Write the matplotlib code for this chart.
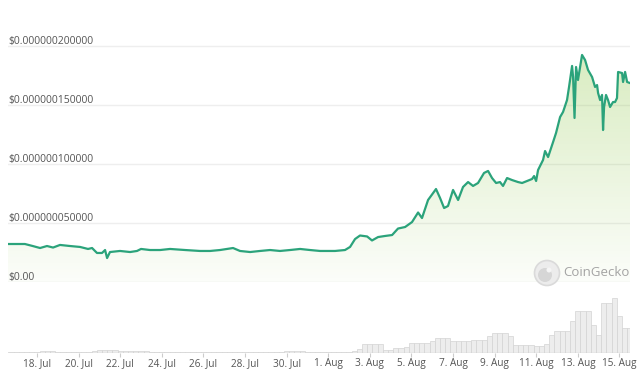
import numpy as np
import pandas as pd
import matplotlib
matplotlib.use("Agg")
import matplotlib.pyplot as plt
import matplotlib.dates as mdates
from matplotlib.patches import Circle
from matplotlib.transforms import IdentityTransform

plt.rcParams['font.family'] = ['Open Sans', 'DejaVu Sans']

# price (time, price in 1e-9 USD)
price_times = [
    "07-16 14:30", "07-17 10:00", "07-17 19:00", "07-18 03:30", "07-18 11:30", "07-18 18:30",
    "07-19 02:30", "07-19 14:00", "07-20 01:40", "07-20 10:50", "07-20 15:30", "07-20 21:10",
    "07-21 03:00", "07-21 06:30", "07-21 08:50", "07-21 12:10", "07-21 23:45", "07-22 11:20",
    "07-22 19:20", "07-23 00:00", "07-23 10:20", "07-23 22:00", "07-24 09:30", "07-25 02:50",
    "07-25 20:00", "07-26 07:40", "07-26 19:10", "07-27 10:10", "07-27 18:10", "07-28 05:50",
    "07-28 17:20", "07-29 04:50", "07-29 16:20", "07-30 03:50", "07-30 15:30", "07-31 03:00",
    "07-31 14:30", "08-01 07:50", "08-01 19:20", "08-02 01:10", "08-02 06:55", "08-02 12:40",
    "08-02 20:50", "08-03 02:30", "08-03 09:30", "08-03 17:30", "08-04 01:40", "08-04 08:30",
    "08-04 16:40", "08-05 00:40", "08-05 07:40", "08-05 12:10", "08-05 19:10", "08-06 01:00",
    "08-06 04:20", "08-06 09:00", "08-06 13:40", "08-06 18:10", "08-07 00:00", "08-07 05:50",
    "08-07 11:30", "08-07 17:20", "08-07 23:05", "08-08 04:50", "08-08 11:45", "08-08 16:25",
    "08-08 21:00", "08-09 01:40", "08-09 06:10", "08-09 09:40", "08-09 14:20", "08-09 20:05",
    "08-10 03:00", "08-10 07:40", "08-10 13:25", "08-10 19:10", "08-10 21:30", "08-10 23:50",
    "08-11 02:05", "08-11 07:50", "08-11 10:10", "08-11 13:40", "08-11 19:25", "08-11 22:50",
    "08-12 03:30", "08-12 06:55", "08-12 11:30", "08-12 13:50", "08-12 17:20", "08-12 18:30",
    "08-12 20:10", "08-12 21:55", "08-13 00:10", "08-13 04:50", "08-13 08:20", "08-13 11:45",
    "08-13 16:25", "08-13 19:50", "08-13 22:10", "08-13 23:20", "08-14 01:40", "08-14 03:55",
    "08-14 05:05", "08-14 06:15", "08-14 08:30", "08-14 10:50", "08-14 13:10", "08-14 16:35",
    "08-14 18:55", "08-14 21:10", "08-14 22:25", "08-15 03:00", "08-15 04:10", "08-15 06:30",
    "08-15 08:50", "08-15 12:10",
]
price_nano = [
    32.2, 32.2, 30.5, 28.8, 30.5, 29.2,
    31.4, 30.5, 29.7, 28.0, 28.8, 24.6,
    24.6, 27.1, 20.3, 25.4, 26.3, 25.4,
    26.3, 28.0, 27.1, 27.1, 28.0, 27.1,
    26.3, 26.3, 27.1, 28.8, 26.3, 25.4,
    26.3, 27.1, 26.3, 27.1, 28.0, 27.1,
    26.3, 26.3, 27.1, 29.7, 36.4, 39.4,
    38.6, 35.2, 38.1, 39.0, 39.8, 45.3,
    46.6, 50.8, 58.9, 54.2, 69.5, 75.4,
    78.8, 71.2, 62.7, 64.4, 78.0, 69.5,
    80.5, 84.7, 81.4, 83.9, 92.4, 94.1,
    88.1, 83.9, 84.7, 81.4, 88.1, 86.4,
    84.7, 83.9, 85.6, 87.3, 89.8, 85.6,
    94.9, 103.4, 111.0, 105.9, 118.6, 126.3,
    139.8, 144.1, 154.2, 165.3, 183.1, 173.7,
    139.0, 182.2, 171.2, 192.4, 188.1, 179.7,
    173.7, 165.3, 166.9, 160.2, 154.2, 158.5,
    128.8, 148.3, 158.5, 154.2, 148.3, 152.5,
    152.5, 155.9, 178.0, 177.1, 169.5, 178.0,
    169.5, 168.6,
]

# volume, 6-hourly bars from 16 Jul 18:00 (relative heights)
vol_start = "2023-07-16 18:00"
volume = [
    1,
    1, 1, 1, 1,   1, 2, 2, 2,   1, 1, 1, 1,   1, 1, 1, 2,
    3, 3, 3, 3,   2, 2, 2, 2,   2, 2, 1, 1,   1, 1, 1, 1,
    1, 1, 1, 1,   1, 1, 1, 1,   1, 1, 1, 1,   1, 1, 1, 1,
    1, 1, 1, 1,   2, 2, 2, 2,   1, 1, 1, 1,   1, 1, 1, 1,
    1, 2, 4, 9,   9, 9, 9, 3,   3, 5, 5, 6,   10, 10, 10, 10,
    12, 15, 15, 15,   12, 12, 12, 12,   13, 13, 13, 17,   20, 20, 20, 17,
    8, 8, 8, 8,   7, 7, 9, 18,   22, 22, 22, 32,   42, 42, 42, 28,
    18, 50, 50, 55,
    37, 25, 25,
]

tick_dates = ["07-18", "07-20", "07-22", "07-24", "07-26", "07-28", "07-30",
              "08-01", "08-03", "08-05", "08-07", "08-09", "08-11", "08-13", "08-15"]
grid_vals = [0, 5e-8, 1e-7, 1.5e-7, 2e-7]

t = pd.to_datetime(["2023-" + s for s in price_times])
p = np.array(price_nano) * 1e-9
vt = pd.date_range(vol_start, periods=len(volume), freq="6h")
ticks = pd.to_datetime(["2023-" + s for s in tick_dates])

W, H = 640, 370
fig = plt.figure(figsize=(6.4, 3.7), dpi=100)
fig.patch.set_facecolor("white")

ax = fig.add_axes([8 / W, 88 / H, 622 / W, 253.7 / H])
axv = fig.add_axes([8 / W, 17 / H, 622 / W, 56 / H])

x0, x1 = mdates.date2num(t[0]), mdates.date2num(t[-1])

# price panel
for g in grid_vals:
    ax.axhline(g, color="#eeeeee", lw=1, zorder=0)
    lab = "$0.00" if g == 0 else f"${g:.12f}"
    ax.annotate(lab, (0, g), xycoords=("axes fraction", "data"), xytext=(0, 1.5),
                textcoords="offset points", ha="left", va="baseline",
                fontsize=7.5, color="#555555")

poly = ax.fill_between(t, p, 0, color="none", lw=0)
grad = np.zeros((256, 1, 4))
grad[:, 0, 0] = 0.55
grad[:, 0, 1] = 0.78
grad[:, 0, 2] = 0.27
grad[:, 0, 3] = np.linspace(0.03, 0.33, 256)
im = ax.imshow(grad, aspect="auto", origin="lower", extent=[x0, x1, 0, p.max()], zorder=1)
im.set_clip_path(poly.get_paths()[0], transform=ax.transData)

ax.plot(t, p, color="#2ba37b", lw=1.6, zorder=3, solid_joinstyle="round")
ax.set_xlim(x0, x1)
ax.set_ylim(0, 2.15e-7)
ax.axis("off")

# volume panel
axv.bar(vt, volume, width=0.25, color="#ededed", edgecolor="#d3d3d3", lw=0.5)
axv.axhline(0, color="#d0d0d0", lw=1)
axv.set_xlim(x0, x1)
axv.set_ylim(0, 56)
for s in axv.spines.values():
    s.set_visible(False)
axv.set_yticks([])
axv.set_xticks(ticks)
axv.set_xticklabels([f"{d.day}. {d.strftime('%b')}" for d in ticks])
axv.tick_params(axis="x", direction="out", length=3, width=0.8, color="#cccccc",
                pad=0.5, labelsize=7.2, labelcolor="#555555")

# watermark
fig.add_artist(Circle((547, H - 273), 12.5, transform=IdentityTransform(),
                      facecolor="#ececec", edgecolor="#dadada", lw=1.2))
fig.add_artist(Circle((545, H - 275), 7, transform=IdentityTransform(),
                      facecolor="#d6d6d6", edgecolor="none"))
fig.add_artist(Circle((549, H - 270), 2.5, transform=IdentityTransform(),
                      facecolor="#f5f5f5", edgecolor="none"))
fig.text(563 / W, 1 - 273 / H, "CoinGecko", fontsize=9.5, color="#a3a3a3",
         ha="left", va="center")

fig.savefig("out.png", dpi=100, facecolor="white")
